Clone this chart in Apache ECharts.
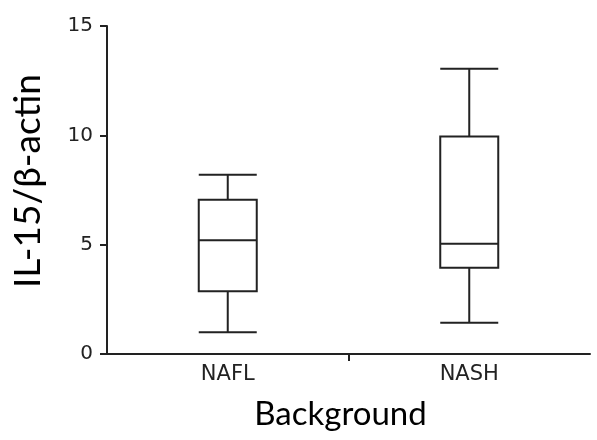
<!DOCTYPE html>
<html>
<head>
<meta charset="utf-8">
<script src="https://cdn.jsdelivr.net/npm/echarts@6/dist/echarts.min.js"></script>
<style>
  html, body { margin: 0; padding: 0; background: #fff; }
  #main { width: 597px; height: 440px; }
</style>
</head>
<body>
<div id="main"></div>
<script>
// groups on the x axis
var groups = ['NAFL', 'NASH'];
// [min, Q1, median, Q3, max]
var naflBox = [1.0, 2.87, 5.2, 7.05, 8.2];
var nashBox = [1.43, 3.94, 5.04, 9.95, 13.05];
var yTicks = [0, 5, 10, 15];

var lineColor = '#222';

var myChart = echarts.init(document.getElementById('main'));

var option = {
    animation: false,
    grid: { left: 107, right: 7, top: 26, bottom: 86 },
    xAxis: [{
        type: 'category',
        data: groups,
        name: 'Background',
        nameLocation: 'middle',
        nameGap: 44,
        nameTextStyle: { fontFamily: 'Lato', fontSize: 33, color: '#000', padding: [0, 16, 0, 0] },
        axisLine: { lineStyle: { color: lineColor, width: 2 } },
        axisTick: { show: false },
        axisLabel: { fontFamily: 'DejaVu Sans', fontSize: 21, color: '#222', margin: 10 }
    }, {
        // only the tick between the two groups
        type: 'value',
        position: 'bottom',
        min: 0,
        max: 2,
        axisLine: { show: false },
        splitLine: { show: false },
        axisLabel: { show: false },
        axisTick: { show: true, length: 7, customValues: [1], lineStyle: { color: lineColor, width: 2 } }
    }],
    yAxis: {
        type: 'value',
        min: yTicks[0],
        max: yTicks[yTicks.length - 1],
        interval: 5,
        name: 'IL-15/β-actin',
        nameLocation: 'middle',
        nameGap: 60,
        nameTextStyle: { fontFamily: 'Lato', fontSize: 37, color: '#000', padding: [0, 0, 0, 18] },
        splitLine: { show: false },
        axisLine: { show: true, lineStyle: { color: lineColor, width: 2 } },
        axisTick: { show: true, length: 7, lineStyle: { color: lineColor, width: 2 } },
        axisLabel: { fontFamily: 'DejaVu Sans', fontSize: 20, color: '#222', margin: 14 }
    },
    series: [{
        type: 'boxplot',
        boxWidth: [58, 58],
        itemStyle: { color: '#fff', borderColor: lineColor, borderWidth: 2 },
        data: [naflBox, nashBox]
    }]
};

myChart.setOption(option);
</script>
</body>
</html>
